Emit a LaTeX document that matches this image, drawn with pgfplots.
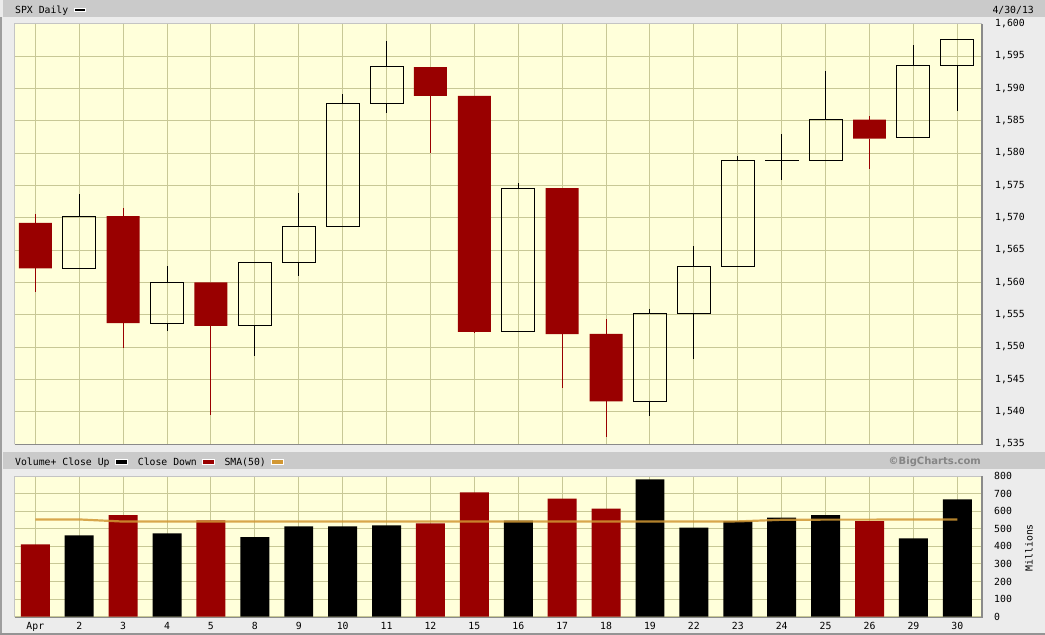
\documentclass[border=0pt]{standalone}
\usepackage{fontspec}
\setmainfont{DejaVu Sans}
\newfontfamily\monof{DejaVu Sans Mono}
\usepackage{pgfplots}
\usepackage{pgfplotstable}
\pgfplotsset{compat=1.18}

\definecolor{pagebg}{HTML}{ECECEC}
\definecolor{barbg}{HTML}{CACACA}
\definecolor{plotbg}{HTML}{FFFFDA}
\definecolor{gridc}{RGB}{200,200,150}
\definecolor{downred}{HTML}{990000}
\definecolor{smac}{RGB}{210,152,52}
\definecolor{wm}{HTML}{858585}
\definecolor{frlight}{HTML}{C4C4C4}
\definecolor{frdark}{HTML}{8A8A8A}

\newcommand\mf{\monof\fontsize{9.8bp}{11bp}\selectfont}

% up candles: index open high low close
\pgfplotstableread{
i o h l c
1 1562.17 1573.66 1562.17 1570.25
3 1553.69 1562.60 1552.52 1559.98
5 1553.26 1563.07 1548.63 1563.07
6 1563.11 1573.89 1560.92 1568.61
7 1568.61 1589.07 1568.61 1587.73
8 1587.73 1597.35 1586.17 1593.37
11 1552.36 1575.35 1552.36 1574.57
14 1541.61 1555.89 1539.40 1555.25
15 1555.25 1565.55 1548.19 1562.50
16 1562.50 1579.58 1562.50 1578.78
17 1578.78 1583.00 1575.80 1578.79
18 1578.78 1592.64 1578.78 1585.16
20 1582.34 1596.65 1582.34 1593.61
21 1593.58 1597.57 1586.50 1597.57
}\upc

% down candles
\pgfplotstableread{
i o h l c
0 1569.18 1570.57 1558.47 1562.17
2 1570.25 1571.47 1549.80 1553.69
4 1559.98 1559.98 1539.50 1553.28
9 1593.30 1593.30 1579.97 1588.85
10 1588.84 1588.84 1552.28 1552.36
12 1574.57 1574.57 1543.69 1552.01
13 1552.03 1554.38 1536.03 1541.61
19 1585.16 1585.78 1577.56 1582.24
}\downc

\pgfplotstableread{
i v
1 463
3 474
5 452
6 514
7 514
8 520
11 546
14 781
15 507
16 543
17 563
18 577
20 446
21 667
}\volup

\pgfplotstableread{
i v
0 412
2 577
4 548
9 531
10 707
12 671
13 614
19 543
}\voldown

\pgfplotstableread{
i v
0 553
1 553
2 541
3 541
4 541
5 541
6 541
7 541
8 541
9 541
10 541
11 541
12 541
13 541
14 541
15 541
16 542
17 551
18 552
19 552
20 553
21 553
}\sma

\pgfplotsset{
  priceax/.style={scale only axis, width=967bp, height=420.3bp,
    xmin=-0.474, xmax=21.551, ymin=1535, ymax=1600,
    at={(14.5bp,-444bp)}, anchor=south west},
}

\begin{document}
\begin{tikzpicture}[x=1bp,y=1bp]
% page background and bars
\fill[pagebg] (0,0) rectangle (1045,-635);
\fill[barbg] (3,0) rectangle (1045,-16.7);
\fill[barbg] (3,-452) rectangle (1045,-468.7);
\fill[black!38] (0,-16.7) rectangle (2,-635);
\fill[black!42] (0,-633) rectangle (1045,-635);

% header texts
\node[anchor=base west, inner sep=0pt, font=\mf] at (15,-13.3) {SPX Daily};
\draw[white, fill=black, line width=0.8bp] (74,-8.2) rectangle (85.7,-11.2);
\node[anchor=base east, inner sep=0pt, font=\mf] at (1034,-13.1) {4/30/13};

\node[anchor=base west, inner sep=0pt, font=\mf] at (15,-465.3) {Volume+ Close Up};
\draw[white, fill=black, line width=0.8bp] (115,-459.7) rectangle (127.7,-464);
\node[anchor=base west, inner sep=0pt, font=\mf] at (137.7,-465.3) {Close Down};
\draw[white, fill=downred, line width=0.8bp] (202.3,-459.7) rectangle (214.3,-464);
\node[anchor=base west, inner sep=0pt, font=\mf] at (224.3,-465.3) {SMA(50)};
\draw[white, fill=smac, line width=0.8bp] (271,-459.7) rectangle (283.3,-464);
\node[anchor=base east, inner sep=0pt, text=wm, font=\fontsize{10bp}{12bp}\selectfont\bfseries] at (981,-464.8) {©BigCharts.com};

% price panel: grid and wicks
\begin{axis}[priceax,
  axis background/.style={fill=plotbg},
  axis line style={draw=none},
  grid=major, major grid style={draw=gridc, line width=1bp},
  xtick={0,...,21},
  xticklabel style={text opacity=0},
  ytick={1535,1540,...,1600},
  yticklabel pos=right,
  major tick length=0pt, tick style={draw=none},
  /pgf/number format/assume math mode=true,
  /pgf/number format/1000 sep={,},
  /pgf/number format/fixed, /pgf/number format/precision=0,
  yticklabel style={font=\mf, anchor=west, inner sep=0pt, xshift=13.5bp},
]
\addplot[draw=none, mark=none, forget plot,
  error bars/.cd, y dir=plus, y explicit, error mark=none,
  error bar style={draw=black, line width=1bp}]
  table[x=i, y expr={max(\thisrow{o},\thisrow{c})},
        y error expr={\thisrow{h}-max(\thisrow{o},\thisrow{c})}] {\upc};
\addplot[draw=none, mark=none, forget plot,
  error bars/.cd, y dir=minus, y explicit, error mark=none,
  error bar style={draw=black, line width=1bp}]
  table[x=i, y expr={min(\thisrow{o},\thisrow{c})},
        y error expr={min(\thisrow{o},\thisrow{c})-\thisrow{l}}] {\upc};
\addplot[draw=none, mark=none, forget plot,
  error bars/.cd, y dir=plus, y explicit, error mark=none,
  error bar style={draw=downred, line width=1bp}]
  table[x=i, y expr={max(\thisrow{o},\thisrow{c})},
        y error expr={\thisrow{h}-max(\thisrow{o},\thisrow{c})}] {\downc};
\addplot[draw=none, mark=none, forget plot,
  error bars/.cd, y dir=minus, y explicit, error mark=none,
  error bar style={draw=downred, line width=1bp}]
  table[x=i, y expr={min(\thisrow{o},\thisrow{c})},
        y error expr={min(\thisrow{o},\thisrow{c})-\thisrow{l}}] {\downc};
\end{axis}

% up candle bodies (hollow)
\begin{axis}[priceax, hide axis, ybar stacked, bar width=0.75]
\addplot[draw=none, fill=none] table[x=i, y expr={min(\thisrow{o},\thisrow{c})}] {\upc};
\addplot[draw=black, fill=none, line width=1bp] table[x=i, y expr={abs(\thisrow{c}-\thisrow{o})}] {\upc};
\end{axis}

% down candle bodies (filled red)
\begin{axis}[priceax, hide axis, ybar stacked, bar width=0.75]
\addplot[draw=none, fill=none] table[x=i, y expr={min(\thisrow{o},\thisrow{c})}] {\downc};
\addplot[draw=none, fill=downred] table[x=i, y expr={abs(\thisrow{c}-\thisrow{o})}] {\downc};
\end{axis}

% volume panel
\begin{axis}[scale only axis, width=967bp, height=140.7bp,
  xmin=-0.474, xmax=21.551, ymin=0, ymax=800,
  at={(14.5bp,-616.7bp)}, anchor=south west,
  axis background/.style={fill=plotbg},
  axis line style={draw=none},
  grid=major, major grid style={draw=gridc, line width=1bp},
  xtick={0,...,21},
  xticklabels={Apr,2,3,4,5,8,9,10,11,12,15,16,17,18,19,22,23,24,25,26,29,30},
  ytick={0,100,...,800},
  yticklabel pos=right,
  major tick length=0pt, tick style={draw=none},
  /pgf/number format/assume math mode=true,
  yticklabel style={font=\mf, anchor=west, inner sep=0pt, xshift=12.5bp},
  xticklabel style={font=\mf, anchor=north, inner sep=0pt, yshift=-5bp},
  ybar, bar width=0.66, bar shift=0pt,
]
\addplot[fill=black, draw=none] table[x=i, y=v] {\volup};
\addplot[fill=downred, draw=none] table[x=i, y=v] {\voldown};
\addplot[sharp plot, smac, line width=2.2bp, opacity=0.85, mark=none] table[x=i, y=v] {\sma};
\end{axis}

\node[rotate=90, inner sep=0pt, font=\mf] at (1029,-547.7) {Millions};

% frames
\draw[frlight, line width=1bp] (14.5,-444) -- (14.5,-23.7) -- (981.5,-23.7);
\draw[frdark, line width=1.6bp] (14.5,-444.6) -- (982.1,-444.6) -- (982.1,-23.7);
\draw[frlight, line width=1bp] (14.5,-616.7) -- (14.5,-476) -- (981.5,-476);
\draw[frdark, line width=1.6bp] (14.5,-617.3) -- (982.1,-617.3) -- (982.1,-476);
\end{tikzpicture}
\end{document}
